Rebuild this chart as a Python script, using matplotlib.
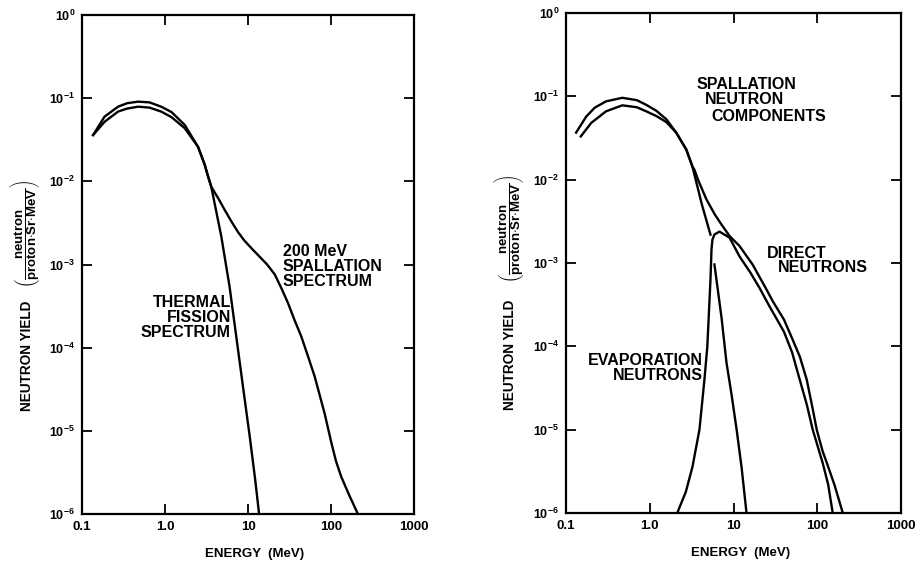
import numpy as np
import matplotlib
matplotlib.use("Agg")
import matplotlib.pyplot as plt

plt.rcParams['font.family'] = ['Liberation Sans', 'DejaVu Sans']
plt.rcParams['mathtext.fontset'] = 'custom'
plt.rcParams['mathtext.rm'] = 'Liberation Sans'
plt.rcParams['mathtext.bf'] = 'Liberation Sans:bold'

# ---- left panel: thermal fission vs 200 MeV spallation (MeV, n/proton-sr-MeV)
fis_E = [0.136, 0.187, 0.272, 0.35, 0.473, 0.65, 0.9, 1.2, 1.73, 2.5, 3.0, 3.3, 3.61,
         4.77, 6.0, 7.22, 8.7, 10.5, 12.2, 13.6]
fis_Y = [0.036, 0.052, 0.069, 0.075, 0.079, 0.077, 0.069, 0.059, 0.0435, 0.026, 0.016, 0.0115, 8.6e-3,
         2.17e-3, 5.4e-4, 1.36e-4, 3.4e-5, 8.5e-6, 2.6e-6, 1.0e-6]

spl_E = [0.136, 0.187, 0.272, 0.35, 0.473, 0.65, 0.9, 1.2, 1.73, 2.5, 3.0, 3.3, 3.61,
         4.4, 5.24, 6.3, 7.59, 9.0, 10.8, 13.2, 17.0, 21.0, 25.0, 30.3, 36.0, 43.9, 53.0, 63.6, 73.0,
         84.0, 101, 115, 133, 165, 211]
spl_Y = [0.036, 0.060, 0.079, 0.087, 0.0908, 0.089, 0.079, 0.068, 0.0476, 0.026, 0.016, 0.0115, 8.6e-3,
         6.2e-3, 4.53e-3, 3.3e-3, 2.45e-3, 1.95e-3, 1.6e-3, 1.3e-3, 1.0e-3, 7.6e-4, 5.3e-4, 3.45e-4,
         2.2e-4, 1.36e-4, 7.8e-5, 4.5e-5, 2.7e-5, 1.6e-5, 7.2e-6, 4.3e-6, 2.8e-6, 1.7e-6, 1.0e-6]

# ---- right panel: spallation neutron components
tot_E = [0.132, 0.174, 0.22, 0.30, 0.47, 0.70, 0.91, 1.2, 1.58, 2.07, 2.73, 3.23, 3.41, 3.8,
         4.75, 6.0, 7.18, 9.0, 11.8, 17.0, 24.8, 29.3, 40.0, 50.9, 62.0, 74.8, 88.0, 98.6, 116, 130,
         160, 202]
tot_Y = [0.0367, 0.057, 0.073, 0.087, 0.096, 0.090, 0.079, 0.067, 0.053, 0.0367, 0.023, 0.0144, 0.0132,
         0.0098, 5.8e-3, 3.8e-3, 2.9e-3, 2.1e-3, 1.6e-3, 9.5e-4, 4.8e-4, 3.5e-4, 2.1e-4, 1.2e-4, 7.5e-5,
         4.0e-5, 1.8e-5, 1.0e-5, 5.5e-6, 4.0e-6, 2.2e-6, 1.0e-6]

evap_E = [0.15, 0.2, 0.3, 0.47, 0.70, 0.91, 1.2, 1.58, 2.07, 2.73, 3.23, 4.2, 5.31]
evap_Y = [0.033, 0.048, 0.066, 0.078, 0.074, 0.066, 0.058, 0.049, 0.0367, 0.023, 0.0144, 5.0e-3, 2.19e-3]

evtail_E = [5.92, 6.26, 7.2, 8.24, 9.5, 10.9, 12.5, 14.3]
evtail_Y = [9.6e-4, 6.3e-4, 2.2e-4, 6.4e-5, 2.6e-5, 1.0e-5, 3.5e-6, 1.0e-6]

dir_E = [2.13, 2.7, 3.24, 3.92, 4.5, 4.87, 5.31, 5.46, 5.6, 5.92, 6.8, 8.95, 11.8, 16.0, 20.5,
         27.0, 40.0, 50.0, 61.7, 75.0, 88.3, 116, 135, 153]
dir_Y = [1.0e-6, 1.8e-6, 3.6e-6, 1.0e-5, 4.0e-5, 1.0e-4, 6.3e-4, 1.45e-3, 1.9e-3, 2.2e-3, 2.38e-3,
         2.02e-3, 1.2e-3, 7.6e-4, 5.0e-4, 3.0e-4, 1.5e-4, 8.5e-5, 4.0e-5, 2.0e-5, 1.0e-5, 4.0e-6,
         2.2e-6, 1.0e-6]

x_ticks = [0.1, 1.0, 10, 100, 1000]
x_labels = ['0.1', '1.0', '10', '100', '1000']
y_ticks = [1e-6, 1e-5, 1e-4, 1e-3, 1e-2, 1e-1, 1e0]
y_labels = [r'$\mathbf{10^{-6}}$', r'$\mathbf{10^{-5}}$', r'$\mathbf{10^{-4}}$', r'$\mathbf{10^{-3}}$',
            r'$\mathbf{10^{-2}}$', r'$\mathbf{10^{-1}}$', r'$\mathbf{10^{0}}$']

unit_txt = r'$\left(\dfrac{\mathbf{neutron}}{\mathbf{proton{\cdot}Sr{\cdot}MeV}}\right)$'

fig = plt.figure(figsize=(9.19, 5.62), dpi=100)
ax1 = fig.add_axes([82 / 919, 1 - 514 / 562, 332 / 919, 499 / 562])
ax2 = fig.add_axes([566 / 919, 1 - 513 / 562, 335 / 919, 500 / 562])

lw = 1.7
ax1.plot(fis_E, fis_Y, color='black', lw=lw)
ax1.plot(spl_E, spl_Y, color='black', lw=lw)
ax2.plot(tot_E, tot_Y, color='black', lw=lw)
ax2.plot(evap_E, evap_Y, color='black', lw=lw)
ax2.plot(evtail_E, evtail_Y, color='black', lw=lw)
ax2.plot(dir_E, dir_Y, color='black', lw=lw)

for ax in (ax1, ax2):
    ax.set_xscale('log')
    ax.set_yscale('log')
    ax.set_xlim(0.1, 1000)
    ax.set_ylim(1e-6, 1)
    ax.set_xticks(x_ticks)
    ax.set_xticklabels(x_labels, fontsize=9.5, fontweight='bold')
    ax.set_yticks(y_ticks)
    ax.set_yticklabels(y_labels, fontsize=9)
    ax.minorticks_off()
    ax.tick_params(direction='in', length=7, width=1.3, top=True, right=True, pad=5)
    for s in ax.spines.values():
        s.set_linewidth(1.6)
    ax.set_xlabel('ENERGY  (MeV)', fontsize=9.5, fontweight='bold')
    ax.set_ylabel('NEUTRON YIELD', fontsize=9.8, fontweight='bold', va='center', ha='center')

ax1.xaxis.set_label_coords(0.52, -0.068)
ax2.xaxis.set_label_coords(0.52, -0.068)
ax1.yaxis.set_label_coords(-0.166, 0.317)
ax2.yaxis.set_label_coords(-0.167, 0.316)
ax1.text(-0.172, 0.561, unit_txt, transform=ax1.transAxes, rotation=90, fontsize=9.5,
         ha='center', va='center')
ax2.text(-0.170, 0.568, unit_txt, transform=ax2.transAxes, rotation=90, fontsize=9.5,
         ha='center', va='center')

fs = 11.5
# left annotations
ax1.text(26.4, 1.75e-3, '200 MeV\nSPALLATION\nSPECTRUM', fontsize=fs, fontweight='bold',
         ha='left', va='top', linespacing=1.0)
ax1.text(6.2, 4.3e-4, 'THERMAL\nFISSION\nSPECTRUM', fontsize=fs, fontweight='bold',
         ha='right', va='top', linespacing=1.0, multialignment='right')

# right annotations
ax2.text(3.6, 0.139, 'SPALLATION', fontsize=fs, fontweight='bold', ha='left', va='center')
ax2.text(4.5, 0.092, 'NEUTRON', fontsize=fs, fontweight='bold', ha='left', va='center')
ax2.text(5.4, 0.0574, 'COMPONENTS', fontsize=fs, fontweight='bold', ha='left', va='center')
ax2.text(24.8, 1.3e-3, 'DIRECT', fontsize=fs, fontweight='bold', ha='left', va='center')
ax2.text(33.7, 8.8e-4, 'NEUTRONS', fontsize=fs, fontweight='bold', ha='left', va='center')
ax2.text(4.25, 5.5e-5, 'EVAPORATION\nNEUTRONS', fontsize=fs, fontweight='bold',
         ha='right', va='center', linespacing=1.0, multialignment='right')

fig.savefig('out.png', dpi=100)
